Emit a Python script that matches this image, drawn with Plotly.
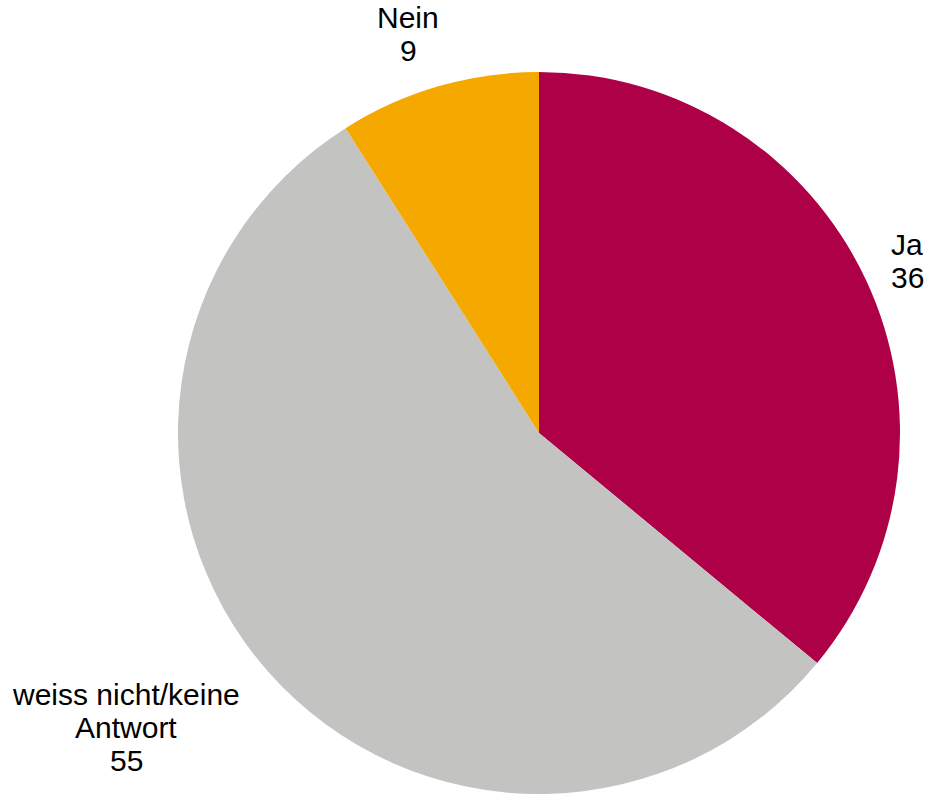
import plotly.graph_objects as go

labels = ["Ja", "weiss nicht/keine Antwort", "Nein"]
values = [36, 55, 9]
colors = ["#AE0046", "#C3C3C2", "#F5A800"]
label_lines = [["Ja", "36"], ["weiss nicht/keine", "Antwort", "55"], ["Nein", "9"]]

W, H = 930, 794
# (center x, baseline of first line) in pixels
ann_pos = [(907, 255), (126, 705), (408, 28)]
LINE = 33
FS = 30

fig = go.Figure(go.Pie(
    labels=labels, values=values, sort=False, direction="clockwise", rotation=0,
    marker=dict(colors=colors, line=dict(width=0)),
    textinfo="none", hoverinfo="label+value", showlegend=False,
    domain=dict(x=[(539-362)/W, (539+362)/W], y=[0, 1-72/H]),
))
for lines, (x, yb) in zip(label_lines, ann_pos):
    for i, t in enumerate(lines):
        y = yb + i*LINE - 0.35*FS
        fig.add_annotation(x=x/W, y=1-y/H, xref="paper", yref="paper", text=t,
                           showarrow=False, xanchor="center", yanchor="middle",
                           font=dict(family="Liberation Sans, Arial", size=FS, color="#000000"))
fig.update_layout(width=W, height=H, margin=dict(l=0, r=0, t=0, b=0),
                  paper_bgcolor="white", plot_bgcolor="white")
fig.write_html("out.html", config={"displayModeBar": False},
               post_script="document.body.style.margin='0px';")
